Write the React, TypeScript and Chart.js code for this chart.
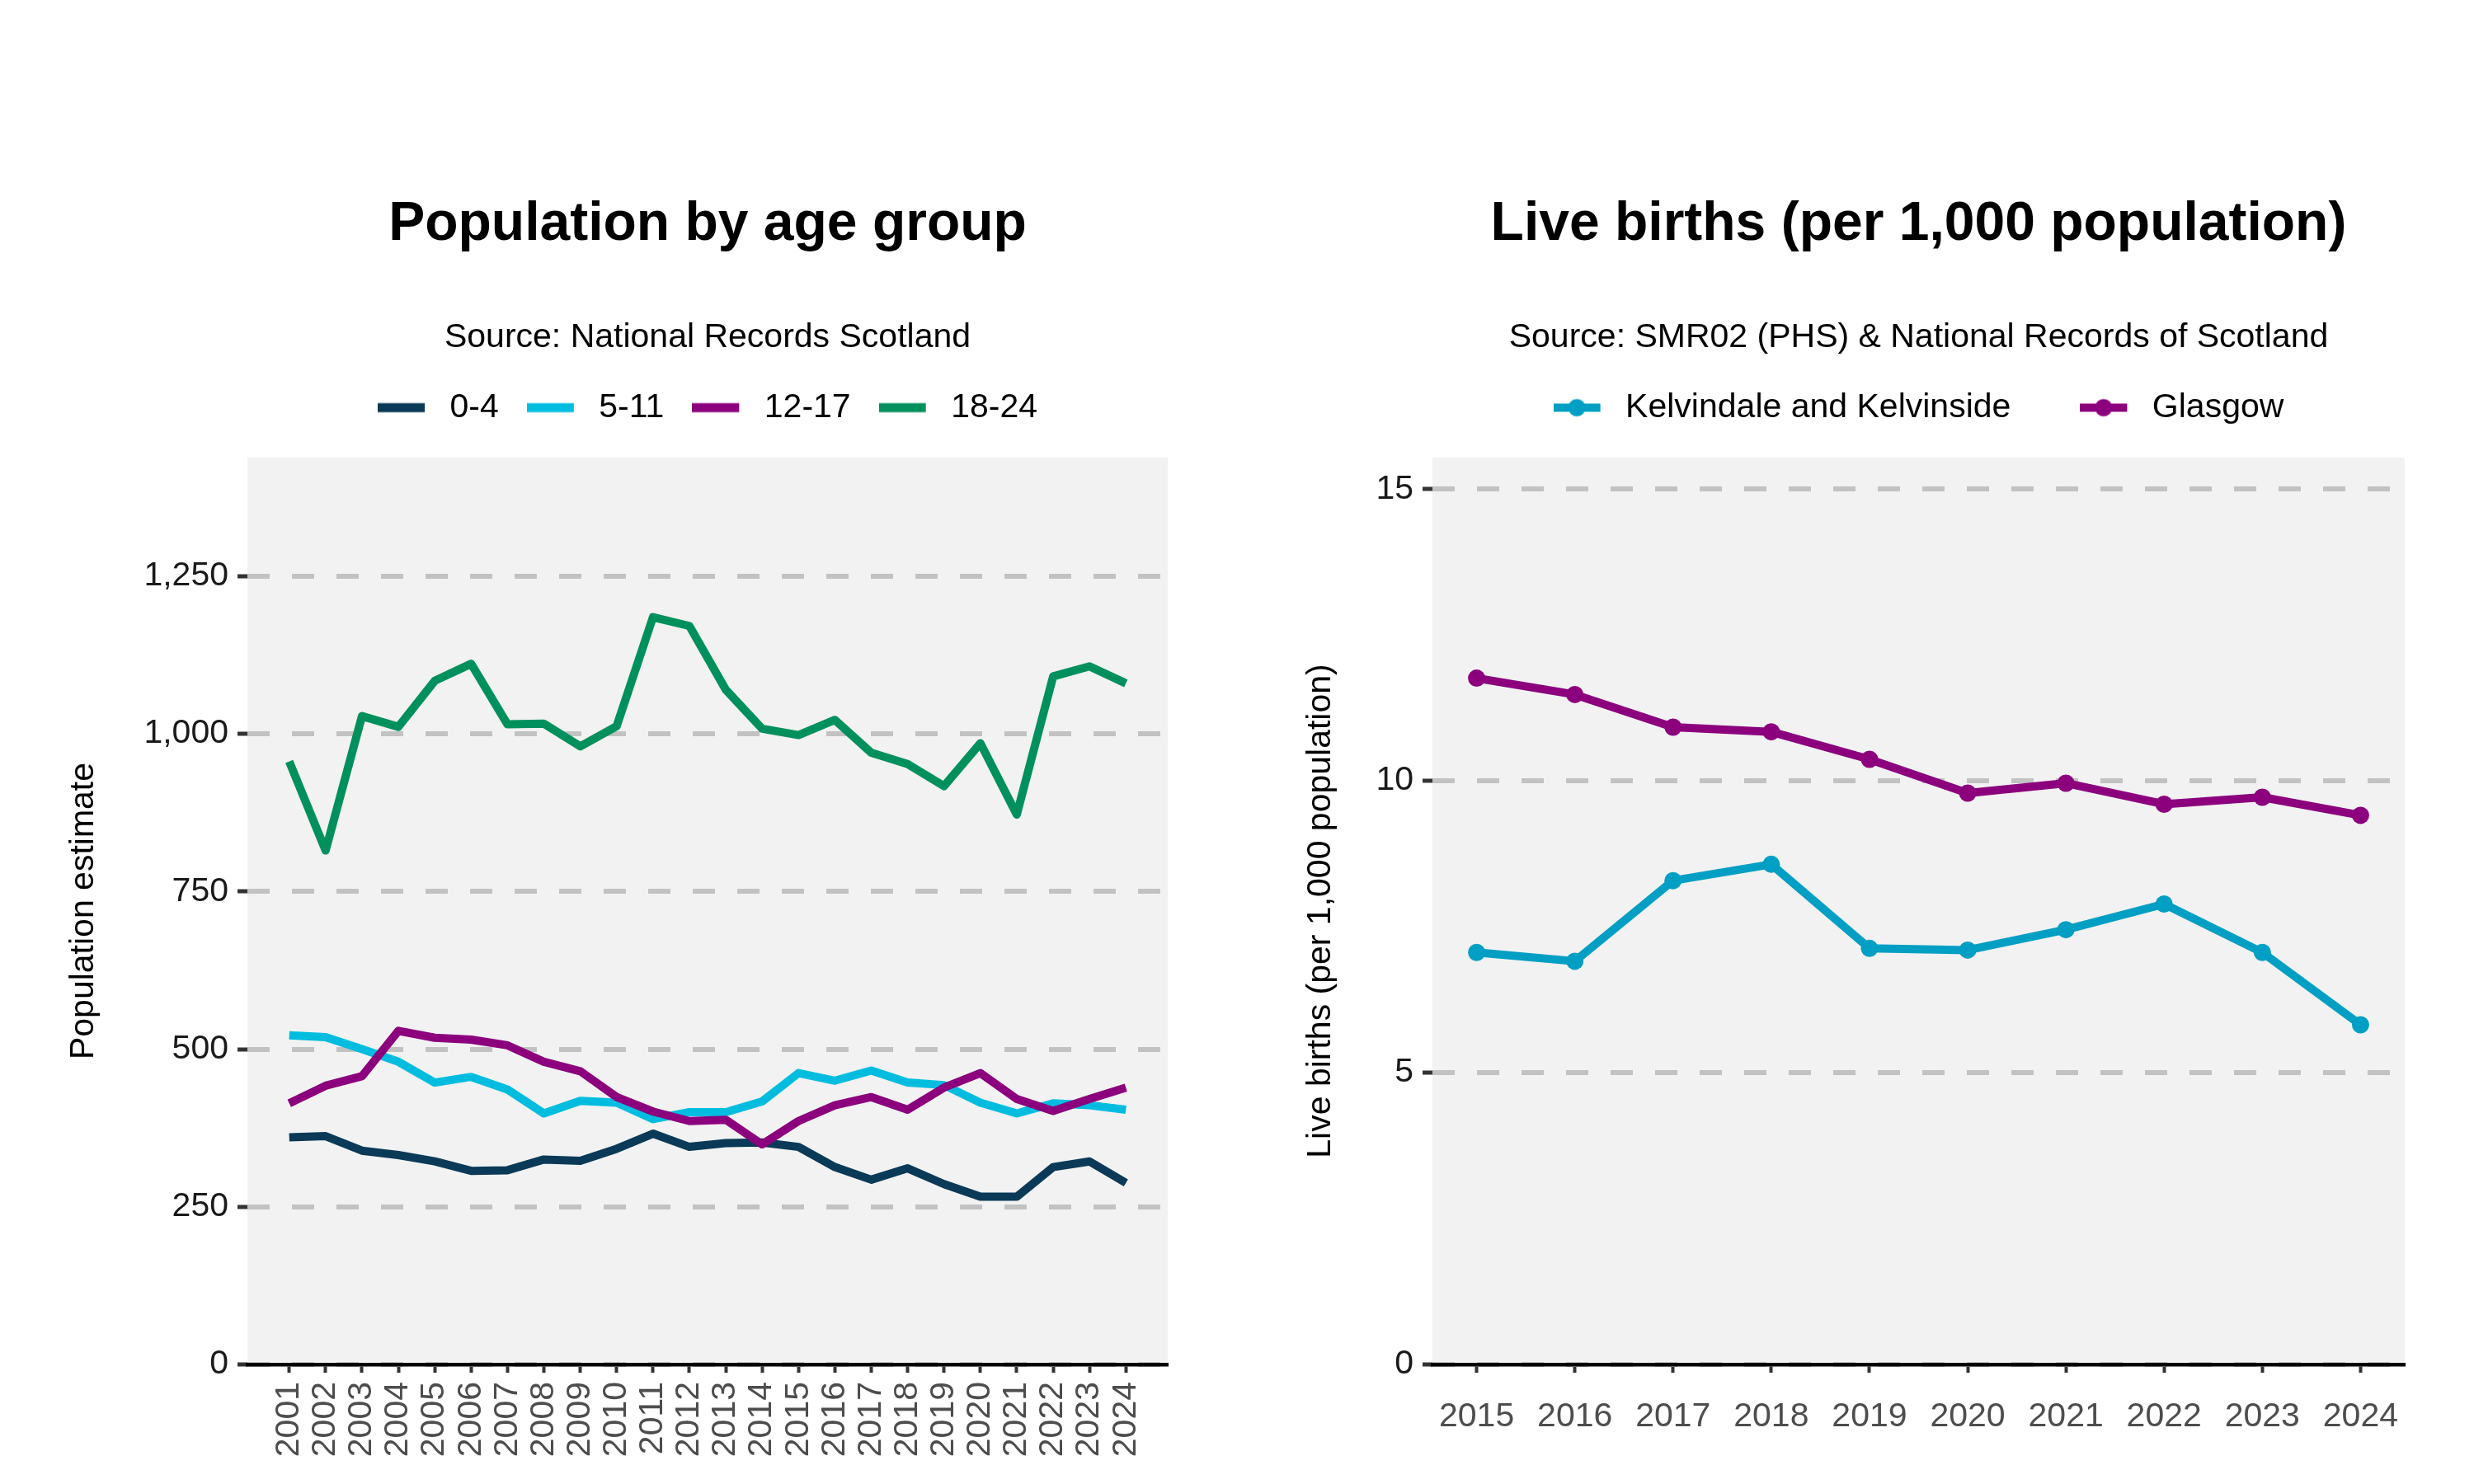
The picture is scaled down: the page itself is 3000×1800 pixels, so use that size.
import React, { useEffect, useRef } from 'react';
import { Chart, registerables } from 'chart.js';

Chart.register(...registerables);

// ---------- Data: population by age group ----------
const popYears = [2001, 2002, 2003, 2004, 2005, 2006, 2007, 2008, 2009, 2010, 2011, 2012, 2013, 2014, 2015, 2016, 2017, 2018, 2019, 2020, 2021, 2022, 2023, 2024];
const age0to4 = [360, 362, 339, 332, 322, 307, 308, 325, 323, 342, 366, 345, 351, 352, 345, 313, 293, 311, 286, 266, 266, 313, 322, 288];
const age5to11 = [522, 519, 500, 480, 447, 456, 436, 398, 418, 415, 389, 400, 400, 417, 462, 450, 466, 447, 443, 415, 398, 414, 411, 404];
const age12to17 = [414, 442, 457, 529, 518, 515, 506, 480, 465, 424, 401, 386, 388, 349, 386, 411, 424, 404, 439, 462, 421, 402, 421, 439];
const age18to24 = [956, 815, 1028, 1011, 1084, 1111, 1015, 1016, 980, 1012, 1185, 1171, 1070, 1008, 998, 1022, 970, 952, 917, 985, 872, 1091, 1107, 1080];
const popSeriesNames = ['0-4', '5-11', '12-17', '18-24'];
const popSeriesColors = ['#0a3a57', '#00bde0', '#8c007e', '#00905e'];
const popYTicks = [0, 250, 500, 750, 1000, 1250];

// ---------- Data: live births per 1,000 ----------
const birthYears = [2015, 2016, 2017, 2018, 2019, 2020, 2021, 2022, 2023, 2024];
const kelvindale = [7.06, 6.91, 8.29, 8.57, 7.13, 7.10, 7.45, 7.89, 7.06, 5.82];
const glasgow = [11.76, 11.48, 10.92, 10.84, 10.37, 9.79, 9.96, 9.60, 9.72, 9.41];
const birthSeriesNames = ['Kelvindale and Kelvinside', 'Glasgow'];
const birthSeriesColors = ['#009fc3', '#8c007e'];
const birthYTicks = [0, 5, 10, 15];

const FONT = "'Liberation Sans', Arial, Helvetica, sans-serif";

function makeMarker(color: string, dot: boolean): HTMLCanvasElement {
  const c = document.createElement('canvas');
  c.width = 67;
  c.height = 24;
  const g = c.getContext('2d') as CanvasRenderingContext2D;
  g.strokeStyle = color;
  g.lineWidth = dot ? 10 : 11;
  g.beginPath();
  g.moveTo(0, 12);
  g.lineTo(57, 12);
  g.stroke();
  if (dot) {
    g.fillStyle = color;
    g.beginPath();
    g.arc(28.5, 12, 10.5, 0, Math.PI * 2);
    g.fill();
  }
  return c;
}

const panelBg = {
  id: 'panelBg',
  beforeDraw(chart: any) {
    const { ctx, chartArea: a } = chart;
    ctx.save();
    ctx.fillStyle = '#f2f2f2';
    ctx.fillRect(a.left, a.top, a.right - a.left, a.bottom - a.top);
    ctx.restore();
  },
};

interface Cfg {
  title: string;
  subtitle: string;
  yTitle: string;
  names: string[];
  colors: string[];
  dots: boolean;
  legendPadding: number;
  yWidth: number;
  xTicks: number[];
  xMin: number;
  xMax: number;
  yTicks: number[];
  yMax: number;
  xRotation: number;
  xPadding: number;
  yFormat: (v: number) => string;
}

function buildOptions(c: Cfg): any {
  const legendTop = 494.5 - c.legendPadding - 20.5;
  const subtitleBottom = legendTop - (410 + 24.6);
  return {
    responsive: false,
    animation: false,
    devicePixelRatio: 1,
    layout: { padding: { top: 0, left: 0, right: 84, bottom: 0 } },
    font: { family: FONT },
    plugins: {
      tooltip: { enabled: false },
      title: {
        display: true,
        text: c.title,
        fullSize: false,
        color: '#000',
        font: { family: FONT, size: 66, weight: 'bold' },
        padding: { top: 232.7, bottom: 0 },
      },
      subtitle: {
        display: true,
        text: c.subtitle,
        fullSize: false,
        color: '#000',
        font: { family: FONT, size: 41, weight: 'normal' },
        padding: { top: 73.5, bottom: subtitleBottom },
      },
      legend: {
        display: true,
        position: 'top',
        fullSize: false,
        labels: {
          usePointStyle: true,
          pointStyleWidth: 67,
          padding: c.legendPadding,
          color: '#000',
          font: { family: FONT, size: 41 },
          generateLabels: () =>
            c.names.map((n, i) => ({
              text: n,
              fillStyle: c.colors[i],
              strokeStyle: c.colors[i],
              lineWidth: 0,
              pointStyle: makeMarker(c.colors[i], c.dots),
              hidden: false,
              datasetIndex: i,
            })),
        },
      },
    },
    scales: {
      x: {
        type: 'linear',
        position: 'bottom',
        min: c.xMin,
        max: c.xMax,
        z: 1,
        afterBuildTicks: (s: any) => {
          s.ticks = c.xTicks.map((v) => ({ value: v }));
        },
        afterFit: (s: any) => {
          s.height = 145;
        },
        grid: { display: true, drawOnChartArea: false, drawTicks: true, tickLength: 10, tickWidth: 4, tickColor: '#333333' },
        border: { display: true, color: '#000', width: 4.5 },
        ticks: {
          autoSkip: false,
          minRotation: c.xRotation,
          maxRotation: c.xRotation,
          padding: c.xPadding,
          color: '#4d4d4d',
          font: { family: FONT, size: 41 },
          callback: (v: any) => String(v),
        },
      },
      xTop: {
        type: 'linear',
        axis: 'x',
        position: 'top',
        display: true,
        grid: { display: false },
        border: { display: false },
        ticks: { display: false },
        afterFit: (s: any) => {
          s.height = 30;
        },
      },
      y: {
        type: 'linear',
        position: 'left',
        min: 0,
        max: c.yMax,
        afterBuildTicks: (s: any) => {
          s.ticks = c.yTicks.map((v) => ({ value: v }));
        },
        afterFit: (s: any) => {
          s.width = c.yWidth;
        },
        grid: { color: '#c2c2c2', lineWidth: 6, drawTicks: true, tickLength: 12, tickWidth: 5, tickColor: '#333333' },
        border: { display: false, dash: [27, 27] },
        ticks: {
          padding: 11,
          color: '#1a1a1a',
          font: { family: FONT, size: 41 },
          callback: (v: any) => c.yFormat(Number(v)),
        },
        title: {
          display: true,
          text: c.yTitle,
          color: '#000',
          font: { family: FONT, size: 41 },
          padding: { top: 77, bottom: 0 },
        },
      },
    },
  };
}

function PopulationChart() {
  const ref = useRef<HTMLCanvasElement | null>(null);
  useEffect(() => {
    if (!ref.current) return;
    const series = [age0to4, age5to11, age12to17, age18to24];
    const chart = new Chart(ref.current, {
      type: 'line',
      data: {
        datasets: series.map((vals, i) => ({
          label: popSeriesNames[i],
          data: popYears.map((x, j) => ({ x, y: vals[j] })),
          borderColor: popSeriesColors[i],
          backgroundColor: popSeriesColors[i],
          borderWidth: 10,
          pointRadius: 0,
          tension: 0,
          fill: false,
          borderJoinStyle: 'round',
          borderCapStyle: 'butt',
          order: series.length - i,
        })),
      },
      options: buildOptions({
        title: 'Population by age group',
        subtitle: 'Source: National Records Scotland',
        yTitle: 'Population estimate',
        names: popSeriesNames,
        colors: popSeriesColors,
        dots: false,
        legendPadding: 34,
        yWidth: 300,
        xTicks: popYears,
        xMin: 2001 - 1.15,
        xMax: 2024 + 1.15,
        yTicks: popYTicks,
        yMax: 1438,
        xRotation: 90,
        xPadding: 11,
        yFormat: (v) => v.toLocaleString('en-US'),
      }),
      plugins: [panelBg],
    } as any);
    return () => chart.destroy();
  }, []);
  return <canvas ref={ref} width={1500} height={1800} style={{ width: 1500, height: 1800, display: 'block' }} />;
}

function BirthsChart() {
  const ref = useRef<HTMLCanvasElement | null>(null);
  useEffect(() => {
    if (!ref.current) return;
    const series = [kelvindale, glasgow];
    const chart = new Chart(ref.current, {
      type: 'line',
      data: {
        datasets: series.map((vals, i) => ({
          label: birthSeriesNames[i],
          data: birthYears.map((x, j) => ({ x, y: vals[j] })),
          borderColor: birthSeriesColors[i],
          backgroundColor: birthSeriesColors[i],
          pointBackgroundColor: birthSeriesColors[i],
          pointBorderWidth: 0,
          pointRadius: 10.5,
          borderWidth: 10,
          tension: 0,
          fill: false,
          borderJoinStyle: 'round',
          borderCapStyle: 'butt',
        })),
      },
      options: buildOptions({
        title: 'Live births (per 1,000 population)',
        subtitle: 'Source: SMR02 (PHS) & National Records of Scotland',
        yTitle: 'Live births (per 1,000 population)',
        names: birthSeriesNames,
        colors: birthSeriesColors,
        dots: true,
        legendPadding: 84,
        yWidth: 237,
        xTicks: birthYears,
        xMin: 2015 - 0.45,
        xMax: 2024 + 0.45,
        yTicks: birthYTicks,
        yMax: 15.54,
        xRotation: 0,
        xPadding: 29,
        yFormat: (v) => String(v),
      }),
      plugins: [panelBg],
    } as any);
    return () => chart.destroy();
  }, []);
  return <canvas ref={ref} width={1500} height={1800} style={{ width: 1500, height: 1800, display: 'block' }} />;
}

export default function App() {
  return (
    <div style={{ position: 'absolute', left: 0, top: 0, width: 3000, height: 1800, display: 'flex', background: '#fff' }}>
      <PopulationChart />
      <BirthsChart />
    </div>
  );
}
